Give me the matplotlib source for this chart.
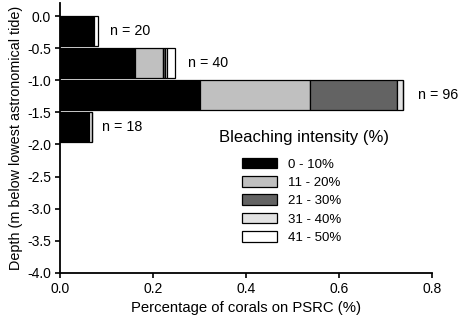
import numpy as np
import matplotlib
matplotlib.use("Agg")
import matplotlib.pyplot as plt

plt.rcParams['font.family'] = ['Liberation Sans', 'DejaVu Sans']

# depth bins (top edge of each bar, m below LAT)
depths = [0.0, -0.5, -1.0, -1.5]
counts = ["n = 20", "n = 40", "n = 96", "n = 18"]
classes = ["0 - 10%", "11 - 20%", "21 - 30%", "31 - 40%", "41 - 50%"]
colors = ["#000000", "#c0c0c0", "#636363", "#e2e2e2", "#ffffff"]

# proportion of corals in each bleaching class, per depth bin
p_0_10 = [0.073, 0.161, 0.301, 0.063]
p_11_20 = [0.0, 0.060, 0.237, 0.0]
p_21_30 = [0.0, 0.005, 0.186, 0.0]
p_31_40 = [0.0, 0.004, 0.014, 0.005]
p_41_50 = [0.008, 0.017, 0.0, 0.0]
series = [p_0_10, p_11_20, p_21_30, p_31_40, p_41_50]

fig, ax = plt.subplots(figsize=(4.59, 3.24), dpi=100)
fig.subplots_adjust(left=0.131, right=0.941, top=0.99, bottom=0.158)

left = np.zeros(len(depths))
for vals, col, lab in zip(series, colors, classes):
    ax.barh(depths, vals, height=-0.46, left=left, align='edge', color=col,
            edgecolor='black', linewidth=0.9, label=lab)
    left += np.array(vals)

# sample size labels
label_x = [0.107, 0.275, 0.77, 0.09]
for d, n, lx in zip(depths, counts, label_x):
    ax.text(lx, d - 0.23, n, va='center', ha='left', fontsize=10.3)

ax.set_xlim(0, 0.8)
ax.set_ylim(-4.0, 0.2)
ax.set_xticks([0.0, 0.2, 0.4, 0.6, 0.8])
ax.set_yticks(np.arange(-4.0, 0.01, 0.5))
ax.xaxis.set_major_formatter(matplotlib.ticker.FormatStrFormatter('%.1f'))
ax.yaxis.set_major_formatter(matplotlib.ticker.FormatStrFormatter('%.1f'))
ax.tick_params(labelsize=10, width=1.2, length=3.5, direction='out', pad=3)
for s in ['top', 'right']:
    ax.spines[s].set_visible(False)
for s in ['left', 'bottom']:
    ax.spines[s].set_linewidth(1.3)

ax.set_xlabel("Percentage of corals on PSRC (%)", fontsize=10.7, labelpad=4)
ax.set_ylabel("Depth (m below lowest astronomical tide)", fontsize=10.4, labelpad=3)

# legend title drawn on its own so its gap to the entries matches
ax.text(0.657, 0.502, "Bleaching intensity (%)", transform=ax.transAxes,
        ha='center', va='center', fontsize=12)
leg = ax.legend(frameon=False, fontsize=9.5, loc='upper left',
                bbox_to_anchor=(0.458, 0.471),
                handlelength=2.65, handleheight=0.85, handletextpad=0.8,
                labelspacing=0.42)

fig.savefig("out.png", dpi=100)
